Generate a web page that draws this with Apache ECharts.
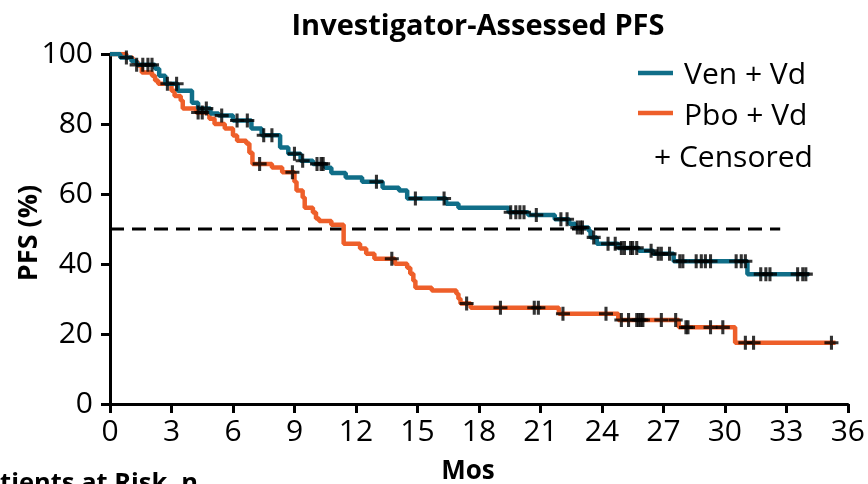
<!DOCTYPE html>
<html>
<head>
<meta charset="utf-8">
<script src="https://cdn.jsdelivr.net/npm/echarts@6/dist/echarts.min.js"></script>
<style>
  html, body { margin: 0; padding: 0; background: #ffffff; }
  #chart { width: 868px; height: 484px; }
</style>
</head>
<body>
<div id="chart"></div>
<script>
// Kaplan-Meier step curves: month at which each step begins and the PFS (%) from there on
const venMonths = [0, 0.5, 1.05, 1.3, 2.2, 2.4, 2.7, 3.3, 4.0, 4.3, 4.9, 5.3, 6.0, 6.9, 7.4, 8.3, 8.7, 9.3, 9.9, 10.5, 10.8, 11.5, 12.3, 13.3, 14.1, 14.5, 16.4, 17.0, 19.45, 20.4, 21.7, 22.4, 22.7, 23.35, 23.45, 23.75, 24.8, 25.8, 26.5, 27.5, 31.1, 34.1];
const venPFS    = [100, 99, 97.9, 96.9, 95.8, 93.8, 91.5, 89.5, 86.1, 84.4, 83, 82.4, 81, 78.7, 76.8, 73.3, 71.5, 69.5, 68.6, 67.5, 66, 64.7, 63.5, 61.8, 61, 58.7, 57.2, 56.1, 54.8, 54.0, 52.8, 51.5, 50.4, 49.5, 47.6, 45.8, 44.6, 43.8, 42.9, 40.8, 37.1, 37.1];

const pboMonths = [0, 0.8, 1.1, 1.35, 1.55, 2.05, 2.2, 2.35, 3.0, 3.15, 3.45, 3.55, 4.2, 4.85, 5.1, 5.6, 6.0, 6.2, 6.65, 6.8, 6.95, 7.9, 8.4, 9.0, 9.1, 9.4, 9.5, 9.9, 10.05, 10.2, 10.8, 11.4, 12.2, 12.5, 12.9, 13.9, 14.5, 14.65, 14.8, 14.9, 15.7, 16.9, 17.0, 17.1, 17.6, 21.9, 24.8, 27.75, 30.5, 35.4];
const pboPFS    = [100, 99, 97.8, 96.7, 94.7, 93.8, 92.4, 91.5, 89.5, 88, 86.7, 84.4, 83.3, 81.5, 80, 78.7, 76.7, 75.2, 74.4, 71.8, 68.6, 67.6, 66.2, 63.5, 61, 59, 56.1, 54.7, 53, 52.3, 51.2, 45.8, 44.4, 42.9, 41.5, 40.1, 38.9, 37.2, 35.2, 33.2, 32.4, 31.5, 30.1, 28.7, 27.5, 25.8, 24.0, 21.9, 17.5, 17.5];

// Censoring times (months)
const venCensored = [0.8, 1.3, 1.6, 1.85, 2.05, 2.8, 3.25, 4.7, 5.45, 6.2, 6.7, 7.5, 7.9, 9.0, 9.4, 10.1, 10.3, 10.4, 13.0, 14.9, 16.3, 19.55, 19.8, 20.0, 20.2, 20.8, 22.0, 22.3, 22.8, 22.95, 23.05, 23.6, 24.3, 24.65, 24.95, 25.1, 25.4, 25.5, 25.7, 26.4, 26.75, 26.9, 27.3, 27.8, 27.95, 28.6, 28.85, 29.05, 29.3, 30.55, 30.8, 31.0, 31.75, 32.0, 32.2, 33.55, 33.8, 33.95];
const pboCensored = [4.3, 4.5, 7.3, 8.9, 13.75, 17.4, 19.05, 20.7, 20.9, 22.1, 24.2, 24.95, 25.3, 25.7, 25.8, 25.9, 26.0, 26.9, 27.6, 28.1, 28.2, 29.3, 29.9, 31.0, 31.4, 35.2];

const medianLevel = 50;
const medianLineEnd = 32.7;

const xTicks = { min: 0, max: 36, interval: 3 };
const yTicks = { min: 0, max: 100, interval: 20 };

const TEAL = '#106e88';
const ORANGE = '#ee5f2a';
const FONT = '"Open Sans", Lato, sans-serif';

function toPairs(months, values) {
  return months.map((m, i) => [m, values[i]]);
}
// value of the step function at month t
function stepValue(months, values, t) {
  let v = values[0];
  for (let i = 0; i < months.length; i++) {
    if (months[i] <= t) v = values[i]; else break;
  }
  return v;
}
function censorPoints(times, months, values) {
  return times.map(t => [t, stepValue(months, values, t)]);
}

// filled "+" outline used for censor ticks
const plusSymbol = 'path://M3.9,0H6.1V3.9H10V6.1H6.1V10H3.9V6.1H0V3.9H3.9Z';

const chart = echarts.init(document.getElementById('chart'), null, { renderer: 'canvas' });

chart.setOption({
  animation: false,
  backgroundColor: '#ffffff',
  grid: { left: 110, right: 18, top: 54, bottom: 80, containLabel: false },
  xAxis: {
    type: 'value',
    min: xTicks.min, max: xTicks.max, interval: xTicks.interval,
    axisLine: { show: true, onZero: false, lineStyle: { color: '#000', width: 3 } },
    axisTick: { show: true, length: 9, lineStyle: { color: '#000', width: 3 } },
    axisLabel: { color: '#000', fontSize: 30, fontFamily: FONT, margin: 13 },
    splitLine: { show: false }
  },
  yAxis: {
    type: 'value',
    min: yTicks.min, max: yTicks.max, interval: yTicks.interval,
    axisLine: { show: true, onZero: false, lineStyle: { color: '#000', width: 3 } },
    axisTick: { show: true, length: 9, lineStyle: { color: '#000', width: 3 } },
    axisLabel: { color: '#000', fontSize: 30, fontFamily: FONT, margin: 17 },
    splitLine: { show: false }
  },
  series: [
    {
      name: 'Median',
      type: 'line',
      data: [[0, medianLevel], [medianLineEnd, medianLevel]],
      showSymbol: false,
      lineStyle: { color: '#000', width: 3, type: [14, 8] },
      z: 1
    },
    {
      name: 'Pbo + Vd',
      type: 'line',
      step: 'end',
      data: toPairs(pboMonths, pboPFS),
      showSymbol: false,
      lineStyle: { color: ORANGE, width: 4.5 },
      z: 2
    },
    {
      name: 'Ven + Vd',
      type: 'line',
      step: 'end',
      data: toPairs(venMonths, venPFS),
      showSymbol: false,
      lineStyle: { color: TEAL, width: 4.5 },
      z: 3
    },
    {
      name: 'Censored Pbo',
      type: 'scatter',
      data: censorPoints(pboCensored, pboMonths, pboPFS),
      symbol: plusSymbol,
      symbolSize: 14,
      itemStyle: { color: '#000' },
      z: 4
    },
    {
      name: 'Censored Ven',
      type: 'scatter',
      data: censorPoints(venCensored, venMonths, venPFS),
      symbol: plusSymbol,
      symbolSize: 14,
      itemStyle: { color: '#000' },
      z: 4
    }
  ],
  graphic: [
    {
      type: 'text', x: 478, y: 27,
      style: { text: 'Investigator-Assessed PFS', font: 'bold 29px ' + FONT, fill: '#000', align: 'center', verticalAlign: 'middle' }
    },
    {
      type: 'text', x: 29, y: 233, rotation: Math.PI / 2,
      style: { text: 'PFS (%)', font: 'bold 27px ' + FONT, fill: '#000', align: 'center', verticalAlign: 'middle' }
    },
    {
      type: 'text', x: 468, y: 472,
      style: { text: 'Mos', font: 'bold 26px ' + FONT, fill: '#000', align: 'center', verticalAlign: 'middle' }
    },
    {
      type: 'text', x: 198, y: 471,
      style: { text: 'Patients at Risk, n', font: 'bold 25.5px ' + FONT, fill: '#000', align: 'right', verticalAlign: 'top' }
    },
    // legend
    { type: 'line', shape: { x1: 638, y1: 73, x2: 673, y2: 73 }, style: { stroke: TEAL, lineWidth: 4.5 } },
    { type: 'line', shape: { x1: 638, y1: 113, x2: 673, y2: 113 }, style: { stroke: ORANGE, lineWidth: 4.5 } },
    {
      type: 'text', x: 684, y: 75,
      style: { text: 'Ven + Vd', font: '30px ' + FONT, fill: '#000', align: 'left', verticalAlign: 'middle' }
    },
    {
      type: 'text', x: 684, y: 116,
      style: { text: 'Pbo + Vd', font: '30px ' + FONT, fill: '#000', align: 'left', verticalAlign: 'middle' }
    },
    {
      type: 'text', x: 654, y: 158,
      style: { text: '+ Censored', font: '30px ' + FONT, fill: '#000', align: 'left', verticalAlign: 'middle' }
    }
  ]
});
</script>
</body>
</html>
